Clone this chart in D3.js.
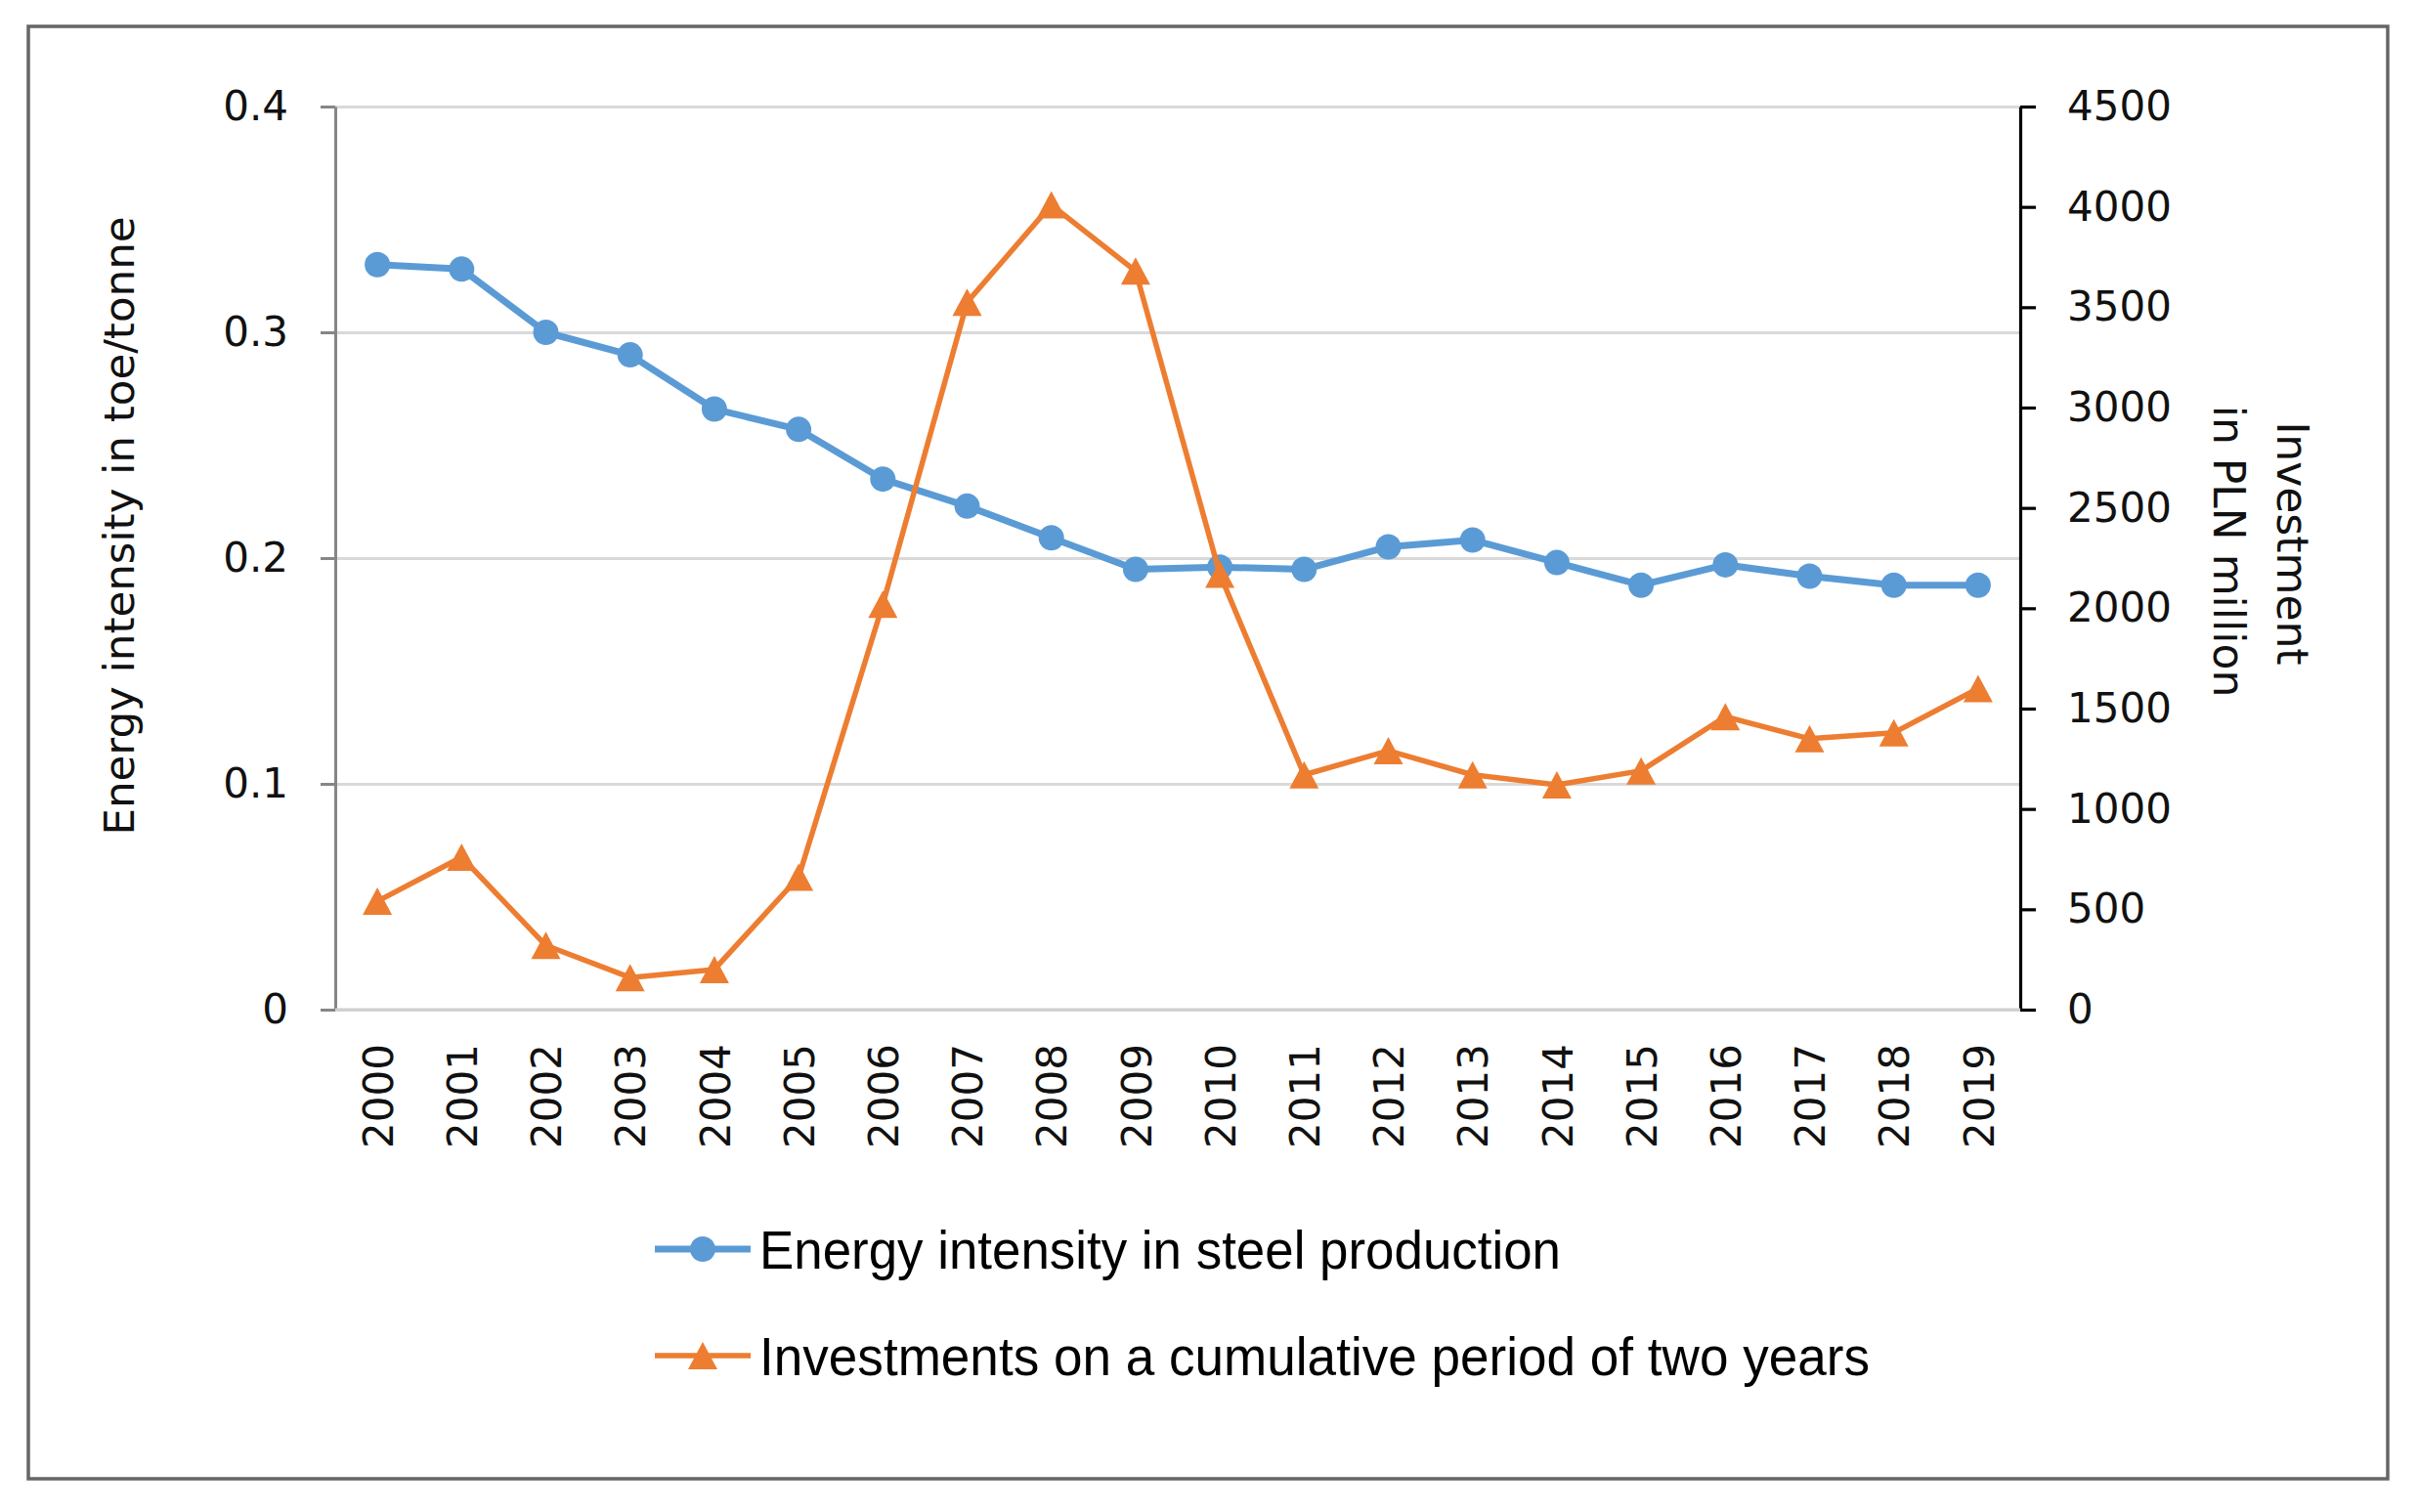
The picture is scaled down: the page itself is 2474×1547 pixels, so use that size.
<!DOCTYPE html>
<html>
<head>
<meta charset="utf-8">
<script src="https://cdn.jsdelivr.net/npm/d3@7"></script>
<style>
  html, body { margin: 0; padding: 0; background: #fff; }
  svg { display: block; }
</style>
</head>
<body>
<svg id="chart" width="2474" height="1547"></svg>
<script>
const years = ["2000", "2001", "2002", "2003", "2004", "2005", "2006", "2007", "2008", "2009",
    "2010", "2011", "2012", "2013", "2014", "2015", "2016", "2017", "2018", "2019"];
const energyIntensity = [0.330, 0.328, 0.300, 0.290, 0.266, 0.257, 0.235, 0.223, 0.209, 0.195,
    0.196, 0.195, 0.205, 0.208, 0.198, 0.188, 0.197, 0.192, 0.188, 0.188];
const investments = [540, 760, 320, 160, 200, 660, 2020, 3525, 4010, 3680,
    2170, 1170, 1290, 1170, 1120, 1190, 1460, 1350, 1380, 1600];
const leftTicks = [0, 0.1, 0.2, 0.3, 0.4];
const rightTicks = [0, 500, 1000, 1500, 2000, 2500, 3000, 3500, 4000, 4500];
const seriesNames = ["Energy intensity in steel production", "Investments on a cumulative period of two years"];

const BLUE = '#5b9bd5';
const ORANGE = '#ed7d31';
const TICK_FONT = '"DejaVu Sans", Verdana, sans-serif';
const LEGEND_FONT = '"Liberation Sans Narrow", "Liberation Sans", Arial, sans-serif';

function translate(x, y) {
    return `translate(${x}, ${y})`;
}

const svg = d3.select('#chart');
const plot = { left: 343, right: 2067, top: 109, bottom: 1033 };

// outer frame
svg.append('rect')
    .attr('x', 29).attr('y', 27)
    .attr('width', 2443 - 29).attr('height', 1513 - 27)
    .attr('fill', '#fff')
    .attr('stroke', '#666')
    .attr('stroke-width', 3.5);

const x = d3.scalePoint()
    .domain(years)
    .range([plot.left, plot.right])
    .padding(0.5);
const yLeft = d3.scaleLinear()
    .domain([0, 0.4])
    .range([plot.bottom, plot.top]);
const yRight = d3.scaleLinear()
    .domain([0, 4500])
    .range([plot.bottom, plot.top]);

// gridlines
svg.append('g')
    .attr('class', 'grid')
    .attr('transform', translate(plot.left, 0))
    .call(d3.axisLeft(yLeft)
        .tickValues(leftTicks)
        .tickSize(-(plot.right - plot.left))
        .tickFormat(''))
    .call(g => g.select('.domain').remove())
    .call(g => g.selectAll('line').attr('stroke', '#d9d9d9').attr('stroke-width', 3));

// left axis
svg.append('g')
    .attr('transform', translate(plot.left, 0))
    .call(d3.axisLeft(yLeft)
        .tickValues(leftTicks)
        .tickSize(15)
        .tickSizeOuter(0)
        .tickPadding(33)
        .tickFormat(d => d === 0 ? '0' : d3.format('.1f')(d)))
    .call(g => g.select('.domain').attr('stroke', '#868686').attr('stroke-width', 3))
    .call(g => g.selectAll('.tick line').attr('stroke', '#868686').attr('stroke-width', 3))
    .call(g => g.selectAll('.tick text')
        .attr('font-family', TICK_FONT)
        .attr('font-size', 42)
        .attr('fill', '#111'));

// right axis
svg.append('g')
    .attr('transform', translate(plot.right, 0))
    .call(d3.axisRight(yRight)
        .tickValues(rightTicks)
        .tickSize(16)
        .tickSizeOuter(0)
        .tickPadding(32)
        .tickFormat(d3.format('d')))
    .call(g => g.select('.domain').attr('stroke', '#000').attr('stroke-width', 3.2))
    .call(g => g.selectAll('.tick line').attr('stroke', '#000').attr('stroke-width', 3.2))
    .call(g => g.selectAll('.tick text')
        .attr('font-family', TICK_FONT)
        .attr('font-size', 42)
        .attr('fill', '#111'));

// category axis
svg.append('g')
    .attr('transform', translate(0, plot.bottom))
    .call(d3.axisBottom(x).tickSize(0).tickSizeOuter(0))
    .call(g => g.select('.domain')
        .attr('d', `M${plot.left},0H${plot.right}`)
        .attr('stroke', '#d0d0d0').attr('stroke-width', 3))
    .call(g => g.selectAll('.tick text')
        .attr('font-family', TICK_FONT)
        .attr('font-size', 42)
        .attr('fill', '#111')
        .attr('text-anchor', 'end')
        .attr('transform', 'rotate(-90)')
        .attr('x', -35)
        .attr('y', 0)
        .attr('dy', '0.36em'));

// axis titles
svg.append('text')
    .attr('transform', translate(137, 538) + ' rotate(-90)')
    .attr('text-anchor', 'middle')
    .attr('font-family', TICK_FONT)
    .attr('font-size', 42)
    .attr('fill', '#111')
    .attr('textLength', 633)
    .attr('lengthAdjust', 'spacingAndGlyphs')
    .text('Energy intensity in toe/tonne');

const rightTitle = svg.append('text')
    .attr('transform', translate(2330, 556) + ' rotate(90)')
    .attr('text-anchor', 'middle')
    .attr('font-family', TICK_FONT)
    .attr('font-size', 44)
    .attr('fill', '#111');
rightTitle.append('tspan').attr('x', 0).attr('y', 0).text('Investment');
rightTitle.append('tspan').attr('x', 8).attr('y', 65).text('in PLN million');

// series
const blueLine = d3.line()
    .x((d, i) => x(years[i]))
    .y(d => yLeft(d));
const orangeLine = d3.line()
    .x((d, i) => x(years[i]))
    .y(d => yRight(d));

function triangle(w, h) {
    return `M0,${-h / 2}L${w / 2},${h / 2}L${-w / 2},${h / 2}Z`;
}

svg.append('path')
    .datum(energyIntensity)
    .attr('fill', 'none')
    .attr('stroke', BLUE)
    .attr('stroke-width', 7)
    .attr('stroke-linejoin', 'round')
    .attr('d', blueLine);
svg.append('g')
    .selectAll('circle')
    .data(energyIntensity)
    .enter()
    .append('circle')
    .attr('cx', (d, i) => x(years[i]))
    .attr('cy', d => yLeft(d))
    .attr('r', 13)
    .attr('fill', BLUE);

svg.append('path')
    .datum(investments)
    .attr('fill', 'none')
    .attr('stroke', ORANGE)
    .attr('stroke-width', 5.5)
    .attr('stroke-linejoin', 'round')
    .attr('d', orangeLine);
svg.append('g')
    .selectAll('path')
    .data(investments)
    .enter()
    .append('path')
    .attr('transform', (d, i) => translate(x(years[i]), yRight(d)))
    .attr('d', triangle(30, 28))
    .attr('fill', ORANGE);

// legend
const legendRows = [
    { name: seriesNames[0], color: BLUE, y: 1278, len: 820, width: 7, marker: 'circle' },
    { name: seriesNames[1], color: ORANGE, y: 1387, len: 1136, width: 5.5, marker: 'triangle' }
];
legendRows.forEach(row => {
    const g = svg.append('g').attr('transform', translate(0, row.y));
    g.append('line')
        .attr('x1', 670).attr('x2', 768)
        .attr('stroke', row.color)
        .attr('stroke-width', row.width);
    if (row.marker === 'circle') {
        g.append('circle').attr('cx', 719).attr('r', 13).attr('fill', row.color);
    } else {
        g.append('path')
            .attr('transform', translate(719, 0))
            .attr('d', triangle(30, 28))
            .attr('fill', row.color);
    }
    g.append('text')
        .attr('x', 777)
        .attr('y', 0)
        .attr('dy', '0.36em')
        .attr('font-family', LEGEND_FONT)
        .attr('font-size', 55)
        .attr('fill', '#000')
        .attr('textLength', row.len)
        .attr('lengthAdjust', 'spacingAndGlyphs')
        .text(row.name);
});
</script>
</body>
</html>
